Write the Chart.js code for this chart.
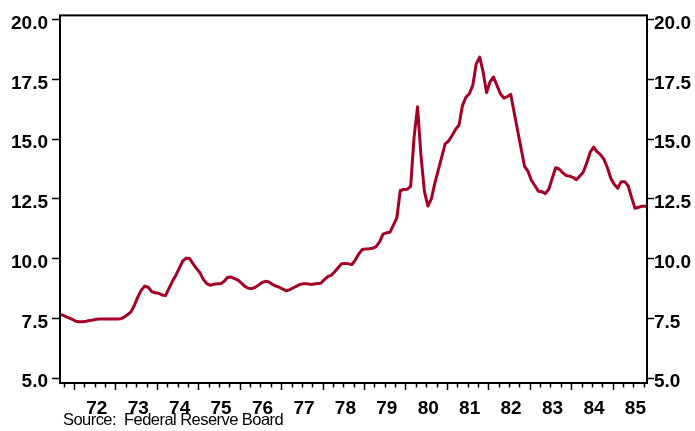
<!DOCTYPE html>
<html>
<head>
<meta charset="utf-8">
<script src="https://cdn.jsdelivr.net/npm/chart.js@4/dist/chart.umd.min.js"></script>
<style>
  html, body { margin: 0; padding: 0; background: #fff; }
  #wrap { position: relative; width: 695px; height: 431px; }
  #c { position: absolute; left: 0; top: 0; }
  #source {
    position: absolute; left: 63px; top: 409px;
    font-family: "Liberation Sans", Arial, sans-serif;
    font-size: 16.5px; letter-spacing: -0.55px; color: #000;
    white-space: pre; line-height: 20px;
  }
</style>
</head>
<body>
<div id="wrap">
  <canvas id="c" width="695" height="431"></canvas>
  <div id="source">Source:  Federal Reserve Board</div>
</div>
<script>
// ---- data (monthly, Sep 1971 .. Oct 1985) ----
const firstYear = 1971;
const firstMonth = 9;
const rates = [
  7.65, 7.58, 7.52, 7.46,                                                    // 1971 Sep-Dec
  7.38, 7.36, 7.36, 7.38, 7.41, 7.43, 7.46, 7.47, 7.47, 7.47, 7.47, 7.47,    // 1972
  7.47, 7.48, 7.55, 7.65, 7.77, 8.05, 8.40, 8.68, 8.85, 8.80, 8.62, 8.57,    // 1973
  8.55, 8.48, 8.45, 8.75, 9.05, 9.30, 9.60, 9.90, 10.02, 10.00, 9.78, 9.58,  // 1974
  9.40, 9.12, 8.95, 8.88, 8.93, 8.95, 8.95, 9.05, 9.22, 9.23, 9.16, 9.10,    // 1975
  8.97, 8.84, 8.76, 8.74, 8.80, 8.90, 9.00, 9.05, 9.02, 8.92, 8.85, 8.80,    // 1976
  8.72, 8.65, 8.70, 8.78, 8.85, 8.92, 8.95, 8.95, 8.92, 8.94, 8.96, 8.97,    // 1977
  9.12, 9.25, 9.30, 9.45, 9.62, 9.78, 9.80, 9.78, 9.75, 9.95, 10.20, 10.38,  // 1978
  10.40, 10.41, 10.43, 10.50, 10.70, 11.02, 11.08, 11.10, 11.40, 11.70, 12.85, 12.89, // 1979
  12.90, 13.02, 15.08, 16.35, 14.30, 12.80, 12.20, 12.50, 13.15, 13.70, 14.25, 14.80, // 1980
  14.92, 15.15, 15.40, 15.58, 16.40, 16.75, 16.90, 17.25, 18.15, 18.43, 17.80, 16.95, // 1981
  17.40, 17.60, 17.25, 16.90, 16.72, 16.78, 16.87, 16.10, 15.35, 14.60, 13.86, 13.65, // 1982
  13.27, 13.05, 12.82, 12.80, 12.72, 12.90, 13.35, 13.80, 13.75, 13.60, 13.48, 13.45, // 1983
  13.40, 13.30, 13.45, 13.62, 14.00, 14.45, 14.67, 14.47, 14.35, 14.15, 13.80, 13.35, // 1984
  13.10, 12.95, 13.22, 13.22, 13.05, 12.55, 12.10, 12.15, 12.19, 12.19                // 1985 Jan-Oct
];
const yearLabels = ['72','73','74','75','76','77','78','79','80','81','82','83','84','85'];
const yTicks = [5.0, 7.5, 10.0, 12.5, 15.0, 17.5, 20.0];

// month categories -> decimal-year positions (mid-month)
const monthTimes = rates.map((_, i) => {
  const m0 = firstMonth - 1 + i;
  return firstYear + Math.floor(m0 / 12) + ((m0 % 12) + 0.5) / 12;
});
const points = rates.map((v, i) => ({ x: monthTimes[i], y: v }));

const tickFont = { family: '"Liberation Sans", Arial, sans-serif', size: 19, weight: 'bold' };
const LINE = '#A50026';

const framePlugin = {
  id: 'frame',
  afterDraw(chart) {
    const { ctx, chartArea: a, scales } = chart;
    ctx.save();
    ctx.strokeStyle = '#000';
    ctx.lineWidth = 2;
    ctx.strokeRect(a.left, a.top, a.right - a.left, a.bottom - a.top);
    // quarterly tick marks on the time axis
    const xs = scales.x;
    ctx.lineWidth = 1.5;
    ctx.beginPath();
    for (let q = Math.ceil(xs.min * 4) / 4; q <= xs.max + 1e-9; q += 0.25) {
      const px = Math.round(xs.getPixelForValue(q)) + 0.5;
      const major = Math.abs(q - Math.round(q)) < 1e-6;
      ctx.moveTo(px, a.bottom);
      ctx.lineTo(px, a.bottom + (major ? 7 : 4.5));
    }
    ctx.stroke();
    ctx.restore();
  }
};

new Chart(document.getElementById('c'), {
  type: 'line',
  data: {
    datasets: [{
      data: points,
      borderColor: LINE,
      borderWidth: 3,
      pointRadius: 0,
      tension: 0,
      borderJoinStyle: 'round',
      borderCapStyle: 'round',
      fill: false,
      yAxisID: 'y'
    }]
  },
  options: {
    responsive: false,
    animation: false,
    events: [],
    layout: { padding: { top: 10, left: 0, right: 0, bottom: 0 } },
    plugins: { legend: { display: false }, tooltip: { enabled: false } },
    scales: {
      x: {
        type: 'linear',
        position: 'bottom',
        min: 71.662 + 1900,
        max: 85.830 + 1900,
        grid: { display: false },
        border: { display: false },
        afterBuildTicks: (s) => { s.ticks = yearLabels.map(l => ({ value: 1900 + Number(l) + 0.55 })); },
        afterFit: (s) => { s.height = 48; },
        ticks: {
          autoSkip: false, maxRotation: 0, padding: 6,
          color: '#000', font: tickFont,
          callback: (v, i) => yearLabels[i]
        }
      },
      y: {
        position: 'left',
        min: 4.794, max: 20.177,
        afterBuildTicks: (s) => { s.ticks = yTicks.map(v => ({ value: v })); },
        afterFit: (s) => { s.width = 60; },
        grid: { drawOnChartArea: false, drawTicks: true, tickLength: 8, tickWidth: 1.5, tickColor: '#000' },
        border: { display: false },
        ticks: { padding: 4, labelOffset: 4, color: '#000', font: tickFont, callback: (v) => Number(v).toFixed(1) }
      },
      y2: {
        position: 'right',
        min: 4.794, max: 20.177,
        afterBuildTicks: (s) => { s.ticks = yTicks.map(v => ({ value: v })); },
        afterFit: (s) => { s.width = 48; },
        grid: { drawOnChartArea: false, drawTicks: true, tickLength: 7, tickWidth: 1.5, tickColor: '#000' },
        border: { display: false },
        ticks: { padding: 0, labelOffset: 4, color: '#000', font: tickFont, callback: (v) => Number(v).toFixed(1) }
      }
    }
  },
  plugins: [framePlugin]
});
</script>
</body>
</html>
